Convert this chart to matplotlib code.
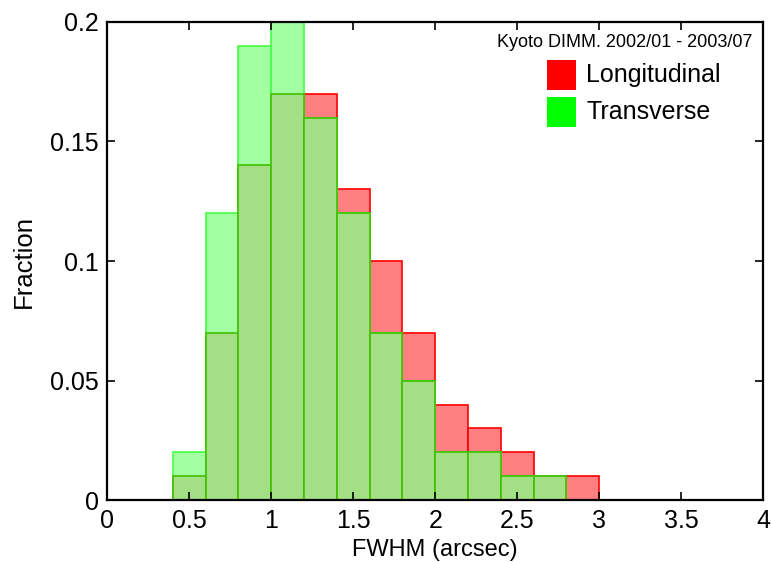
import matplotlib
matplotlib.use("Agg")
import matplotlib.pyplot as plt
import numpy as np
from matplotlib.patches import Rectangle
from matplotlib.ticker import FormatStrFormatter, MultipleLocator

plt.rcParams['font.family'] = ['Liberation Sans', 'DejaVu Sans']

# bin left edges (arcsec), width 0.2
bin_left = [0.0, 0.2, 0.4, 0.6, 0.8, 1.0, 1.2, 1.4, 1.6, 1.8,
            2.0, 2.2, 2.4, 2.6, 2.8, 3.0, 3.2, 3.4, 3.6, 3.8]
longitudinal = [0, 0, 0.01, 0.07, 0.14, 0.17, 0.17, 0.13, 0.10, 0.07,
                0.04, 0.03, 0.02, 0.01, 0.01, 0, 0, 0, 0, 0]
transverse = [0, 0, 0.02, 0.12, 0.19, 0.20, 0.16, 0.12, 0.07, 0.05,
              0.02, 0.02, 0.01, 0.01, 0, 0, 0, 0, 0, 0]
bin_w = 0.2

x = np.array(bin_left)
lon = np.array(longitudinal)
tra = np.array(transverse)
both = np.minimum(lon, tra)

fig = plt.figure(figsize=(7.71, 5.62), dpi=100)
ax = fig.add_axes([0.139, 0.110, 0.851, 0.851])

# red and green parts, then the overlap
ax.bar(x, lon, width=bin_w, align='edge', color='#ff8080', edgecolor='#ff0000', linewidth=1.2)
ax.bar(x, tra, width=bin_w, align='edge', color='#a2ffa2', edgecolor='#44ff44', linewidth=1.2)
ax.bar(x, both, width=bin_w, align='edge', color='#a3e085', edgecolor='#40c000', linewidth=1.2)

ax.set_xlim(0, 4)
ax.set_ylim(0, 0.2)
ax.xaxis.set_major_locator(MultipleLocator(0.5))
ax.yaxis.set_major_locator(MultipleLocator(0.05))
ax.xaxis.set_major_formatter(FormatStrFormatter('%g'))
ax.yaxis.set_major_formatter(FormatStrFormatter('%g'))
ax.tick_params(direction='in', top=True, right=True, length=6, width=1.2,
               labelsize=18, pad=6)
for s in ax.spines.values():
    s.set_linewidth(1.6)

ax.set_xlabel('FWHM (arcsec)', fontsize=17, labelpad=5)
ax.set_ylabel('Fraction', fontsize=18.5, labelpad=10)

# legend block
ax.text(0.983, 0.958, 'Kyoto DIMM. 2002/01 - 2003/07', transform=ax.transAxes,
        ha='right', va='center', fontsize=13)
ax.add_patch(Rectangle((0.671, 0.858), 0.044, 0.063, transform=ax.transAxes,
                       facecolor='#ff0000', edgecolor='none'))
ax.add_patch(Rectangle((0.671, 0.780), 0.044, 0.063, transform=ax.transAxes,
                       facecolor='#00ff00', edgecolor='none'))
ax.text(0.730, 0.889, 'Longitudinal', transform=ax.transAxes, va='center', fontsize=18)
ax.text(0.730, 0.812, 'Transverse', transform=ax.transAxes, va='center', fontsize=18)

fig.savefig('out.png', dpi=100)
